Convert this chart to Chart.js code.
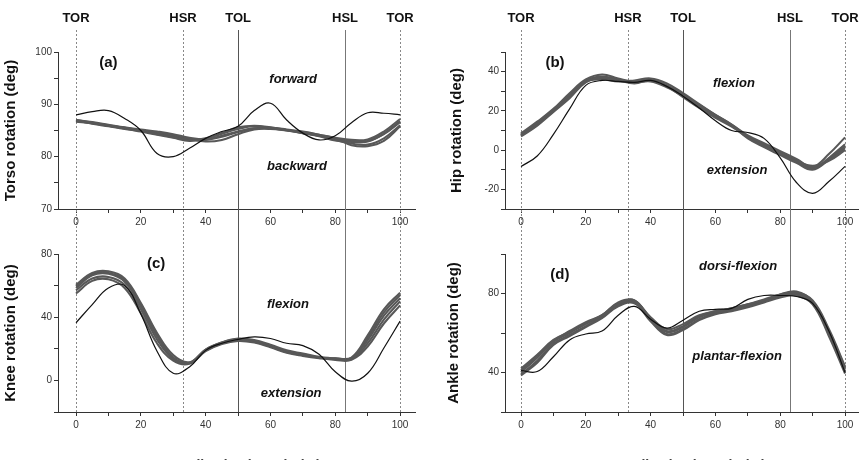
<!DOCTYPE html>
<html>
<head>
    <title>Joint rotation over the gait cycle</title>
    <script src="https://cdn.jsdelivr.net/npm/chart.js"></script>
    <style>
        body { margin: 0; background: #fff; overflow: hidden; }
        #wrap { position: relative; width: 864px; height: 460px; overflow: hidden; }
        canvas { position: absolute; }
    </style>
</head>
<body>
<div id="wrap">
    <canvas id="torso" width="432" height="230" style="left:0;top:0"></canvas>
    <canvas id="hip" width="432" height="230" style="left:432px;top:0"></canvas>
    <canvas id="knee" width="432" height="250" style="left:0;top:230px"></canvas>
    <canvas id="ankle" width="432" height="250" style="left:432px;top:230px"></canvas>
</div>
<script>
    // gait cycle samples (%)
    const gaitPct = [0, 5, 10, 15, 20, 25, 30, 35, 40, 45, 50, 55, 60, 65, 70, 75, 80, 85, 90, 95, 100];

    // gait events
    const eventNames = ['TOR', 'HSR', 'TOL', 'HSL', 'TOR'];
    const eventPct = [0, 33, 50, 83, 100];

    // x axis ticks
    const xTickVals = [0, 10, 20, 30, 40, 50, 60, 70, 80, 90, 100];
    const xLabelVals = [0, 20, 40, 60, 80, 100];

    // (a) torso
    const torsoRuns = [
        [87.0, 86.6, 86.1, 85.6, 85.2, 84.8, 84.3, 83.6, 83.3, 84.0, 84.8, 85.4, 85.4, 85.1, 84.7, 84.2, 83.6, 83.2, 83.3, 84.8, 87.2],
        [86.8, 86.4, 85.9, 85.4, 84.8, 84.2, 83.6, 83.0, 83.4, 84.4, 85.3, 85.8, 85.5, 85.0, 84.5, 84.0, 83.4, 83.0, 83.0, 84.3, 86.6],
        [87.0, 86.5, 86.0, 85.5, 85.0, 84.6, 84.1, 83.4, 82.9, 83.2, 84.3, 85.2, 85.3, 85.0, 84.6, 84.0, 83.2, 82.5, 82.3, 83.5, 86.0],
        [86.9, 86.3, 85.8, 85.3, 84.9, 84.3, 83.7, 83.2, 83.5, 84.5, 85.6, 85.9, 85.6, 85.1, 84.5, 83.9, 83.1, 82.8, 82.9, 84.4, 86.8],
        [86.7, 86.4, 85.9, 85.5, 85.0, 84.4, 83.8, 83.3, 83.2, 83.8, 84.7, 85.4, 85.5, 85.2, 84.8, 84.2, 83.5, 82.2, 82.0, 83.0, 85.8]
    ];
    const torsoRef = [88.0, 88.6, 88.8, 87.3, 85.0, 80.6, 80.0, 81.6, 83.5, 84.8, 85.8, 88.8, 90.2, 87.0, 84.5, 83.2, 84.0, 86.5, 88.4, 88.3, 88.0];
    const torsoTicks = [70, 75, 80, 85, 90, 95, 100];
    const torsoLabels = [70, 80, 90, 100];

    // (b) hip
    const hipRuns = [
        [8.5, 14.5, 21, 29, 36, 38.5, 36.5, 35, 36, 33, 28, 23, 18, 13, 7.5, 3.5, -0.5, -4.5, -8.5, -2, 6.5],
        [7, 12.5, 19.5, 26.5, 34.5, 37, 35.5, 34, 35.5, 32.5, 27, 21.5, 16.5, 12, 6.5, 2, -2, -6, -9.5, -4, 3],
        [7.5, 13.5, 20, 27.5, 35, 36, 35, 35.5, 36.5, 34, 29, 23.5, 18, 13, 7, 2.5, -1.5, -5.5, -8, -5.5, 0],
        [8, 14, 20.5, 28, 35.5, 37.5, 36, 34.5, 35, 32, 27.5, 22, 17, 12.5, 7, 3, -1.5, -5, -9, -4.5, 2],
        [7.5, 13, 20, 27.5, 35, 36.5, 35.5, 35, 35.5, 33, 28.5, 22.5, 17.5, 12.5, 6, 1.5, -2.5, -6.5, -10, -5, 1]
    ];
    const hipRef = [-8.3, -3, 8, 21, 33, 35.5, 35, 34.5, 35.5, 32.5, 27.5, 21.5, 15, 10, 9, 6, -4, -16.5, -22, -16, -8.3];
    const hipTicks = [-30, -20, -10, 0, 10, 20, 30, 40, 50];
    const hipLabels = [-20, 0, 20, 40];

    // (c) knee
    const kneeRuns = [
        [60.5, 68, 69, 64.5, 49, 30, 16, 11.5, 19.5, 24, 26.5, 25.5, 22.5, 19, 17, 15, 14, 14.5, 28.5, 45, 55.5],
        [58.5, 66.5, 67.5, 62.5, 47, 28, 14.5, 11, 19, 23.5, 25.5, 25, 22, 18.5, 16.5, 14.5, 13.5, 14, 25.5, 41, 52],
        [57, 64.5, 65.5, 60.5, 45, 26, 13.5, 11, 19.5, 24, 26, 24.5, 21.5, 18, 16, 14.5, 13.5, 13.5, 23.5, 38.5, 50],
        [55, 63, 64, 58.5, 42.5, 23.5, 12.5, 10.5, 18.5, 23, 25, 24, 21, 17.5, 15.5, 14, 13, 13, 21.5, 36, 47.5],
        [59.5, 67, 68, 63.5, 48, 29, 14, 11, 19, 23.5, 25.5, 24.5, 21.5, 18, 16, 14.5, 14, 14, 27, 43, 54]
    ];
    const kneeRef = [36.5, 48, 58.5, 60, 42, 18.5, 4.5, 8.5, 19, 23.5, 26, 27.5, 26.5, 23.5, 22, 16.5, 5.5, -0.5, 4.5, 20.5, 37.5];
    const kneeTicks = [-20, 0, 20, 40, 60, 80];
    const kneeLabels = [0, 40, 80];

    // (d) ankle
    const ankleRuns = [
        [42, 49, 56.5, 60.5, 65, 69, 75, 76, 68, 62, 64.5, 69, 71, 72.5, 74.5, 77, 79.5, 80.5, 76.5, 62, 43],
        [40, 47.5, 55.5, 60, 64.5, 68.5, 74.5, 76.5, 67, 60.5, 63, 68, 70.5, 72, 74, 76.5, 79, 80, 75.5, 60.5, 41.5],
        [39, 46, 54.5, 59, 63.5, 68, 74, 75.5, 66.5, 59.5, 62, 67, 70, 71.5, 73.5, 76, 78.5, 79.5, 75, 59.5, 40.5],
        [41, 48.5, 56, 61, 65.5, 69, 75.5, 76.5, 67.5, 61, 63.5, 68.5, 71, 72.5, 74.5, 76.5, 79.5, 81, 76, 61, 42.5],
        [38.5, 45, 54, 58.5, 63, 67.5, 73.5, 75, 66, 59, 61.5, 66.5, 69.5, 71, 73, 75.5, 78, 79, 74.5, 58.5, 39.5]
    ];
    const ankleRef = [41, 40.5, 48, 56.5, 59.5, 61, 69, 73.5, 67, 62.5, 66.5, 71, 72, 72.5, 77, 79, 79, 78.5, 75, 61, 40];
    const ankleTicks = [20, 40, 60, 80, 100];
    const ankleLabels = [40, 80];

    const FONT = '"Liberation Sans", Arial, sans-serif';

    // vertical event lines + event names + panel notes
    const overlay = {
        id: 'overlay',
        beforeDatasetsDraw(chart, args, o) {
            const { ctx, chartArea, scales: { x } } = chart;
            ctx.save();
            ctx.lineWidth = 1;
            eventPct.forEach((p, i) => {
                const px = Math.round(x.getPixelForValue(p)) + 0.5;
                const solid = (i === 2 || i === 3);
                ctx.strokeStyle = solid ? (i === 2 ? '#555' : '#777') : '#888';
                ctx.setLineDash(solid ? [] : [2, 2]);
                ctx.beginPath();
                ctx.moveTo(px, o.top ? 30 : 0);
                ctx.lineTo(px, o.top ? chart.height : chartArea.bottom);
                ctx.stroke();
            });
            ctx.restore();
        },
        afterDraw(chart, args, o) {
            const { ctx, scales: { x, y } } = chart;
            ctx.save();
            ctx.fillStyle = '#111';
            ctx.textAlign = 'center';
            ctx.textBaseline = 'middle';
            if (o.top) {
                ctx.font = 'bold 13px ' + FONT;
                eventNames.forEach((n, i) => ctx.fillText(n, x.getPixelForValue(eventPct[i]), 18));
            }
            o.notes.forEach(nt => {
                ctx.font = nt.font;
                ctx.fillText(nt.text, x.getPixelForValue(nt.x), y.getPixelForValue(nt.y));
            });
            ctx.restore();
        }
    };

    function toPoints(vals) {
        return vals.map((v, i) => ({ x: gaitPct[i], y: v }));
    }

    function gaitPanel(id, cfg) {
        const datasets = [{
            data: toPoints(cfg.ref),
            borderColor: '#111',
            borderWidth: 1.2
        }].concat(cfg.runs.map(r => ({
            data: toPoints(r),
            borderColor: '#585858',
            borderWidth: 2.1
        })));
        datasets.forEach(d => { d.pointRadius = 0; d.tension = 0.4; d.fill = false; });

        new Chart(document.getElementById(id), {
            type: 'line',
            data: { datasets: datasets },
            options: {
                responsive: false,
                animation: false,
                events: [],
                layout: { padding: cfg.pad },
                plugins: {
                    legend: { display: false },
                    tooltip: { enabled: false },
                    overlay: { top: cfg.top, notes: cfg.notes }
                },
                scales: {
                    x: {
                        type: 'linear',
                        min: cfg.xMin,
                        max: cfg.xMax,
                        afterBuildTicks: s => { s.ticks = xTickVals.map(v => ({ value: v })); },
                        afterFit: s => { s.height = cfg.xHeight; s.paddingLeft = 0; s.paddingRight = 0; },
                        ticks: {
                            autoSkip: false, maxRotation: 0, padding: 3,
                            color: '#333', font: { family: FONT, size: 10 },
                            callback: v => xLabelVals.includes(v) ? String(v) : ''
                        },
                        grid: { drawOnChartArea: false, tickLength: 4, color: '#333' },
                        border: { color: '#333' },
                        title: {
                            display: !cfg.top,
                            text: 'Normalized gait cycle (%)',
                            color: '#444',
                            font: { family: FONT, size: 14, weight: 'bold' },
                            padding: { top: 0, bottom: 5 }
                        }
                    },
                    y: {
                        min: cfg.yMin,
                        max: cfg.yMax,
                        afterBuildTicks: s => { s.ticks = cfg.yTicks.map(v => ({ value: v })); },
                        afterFit: s => { s.width = cfg.yWidth; s.paddingTop = 0; s.paddingBottom = 0; },
                        ticks: {
                            autoSkip: false, padding: 2,
                            color: '#333', font: { family: FONT, size: 10 },
                            callback: v => cfg.yLabels.includes(v) ? String(v) : ''
                        },
                        grid: { drawOnChartArea: false, tickLength: 4, color: '#333' },
                        border: { color: '#333' },
                        title: {
                            display: true,
                            text: cfg.yTitle,
                            color: '#111',
                            font: { family: FONT, size: 15, weight: 'bold' },
                            padding: { top: cfg.yTitlePad, bottom: 0 }
                        }
                    }
                }
            },
            plugins: [overlay]
        });
    }

    const letterFont = 'bold 15px ' + FONT;
    const noteFont = 'italic bold 13px ' + FONT;

    gaitPanel('torso', {
        top: true, pad: { top: 52, right: 17, left: 0, bottom: 0 },
        xMin: -5.56, xMax: 104.6, xHeight: 21,
        yMin: 70, yMax: 100, yTicks: torsoTicks, yLabels: torsoLabels,
        yWidth: 58, yTitlePad: 2, yTitle: 'Torso rotation (deg)',
        runs: torsoRuns, ref: torsoRef,
        notes: [
            { text: '(a)', x: 10, y: 97.9, font: letterFont },
            { text: 'forward', x: 67, y: 94.8, font: noteFont },
            { text: 'backward', x: 68.2, y: 78.2, font: noteFont }
        ]
    });

    gaitPanel('hip', {
        top: true, pad: { top: 52, right: 6, left: 0, bottom: 0 },
        xMin: -4.94, xMax: 104, xHeight: 21,
        yMin: -30, yMax: 50, yTicks: hipTicks, yLabels: hipLabels,
        yWidth: 73, yTitlePad: 16, yTitle: 'Hip rotation (deg)',
        runs: hipRuns, ref: hipRef,
        notes: [
            { text: '(b)', x: 10.5, y: 44.4, font: letterFont },
            { text: 'flexion', x: 65.7, y: 34.2, font: noteFont },
            { text: 'extension', x: 66.7, y: -10.5, font: noteFont }
        ]
    });

    gaitPanel('knee', {
        top: false, pad: { top: 24, right: 17, left: 0, bottom: 0 },
        xMin: -5.56, xMax: 104.6, xHeight: 68,
        yMin: -20, yMax: 80, yTicks: kneeTicks, yLabels: kneeLabels,
        yWidth: 58, yTitlePad: 2, yTitle: 'Knee rotation (deg)',
        runs: kneeRuns, ref: kneeRef,
        notes: [
            { text: '(c)', x: 24.7, y: 74, font: letterFont },
            { text: 'flexion', x: 65.4, y: 48, font: noteFont },
            { text: 'extension', x: 66.4, y: -8.1, font: noteFont }
        ]
    });

    gaitPanel('ankle', {
        top: false, pad: { top: 24, right: 6, left: 0, bottom: 0 },
        xMin: -4.94, xMax: 104, xHeight: 68,
        yMin: 20, yMax: 100, yTicks: ankleTicks, yLabels: ankleLabels,
        yWidth: 73, yTitlePad: 13, yTitle: 'Ankle rotation (deg)',
        runs: ankleRuns, ref: ankleRef,
        notes: [
            { text: '(d)', x: 12, y: 89.2, font: letterFont },
            { text: 'dorsi-flexion', x: 67, y: 93.7, font: noteFont },
            { text: 'plantar-flexion', x: 66.7, y: 48, font: noteFont }
        ]
    });
</script>
</body>
</html>
